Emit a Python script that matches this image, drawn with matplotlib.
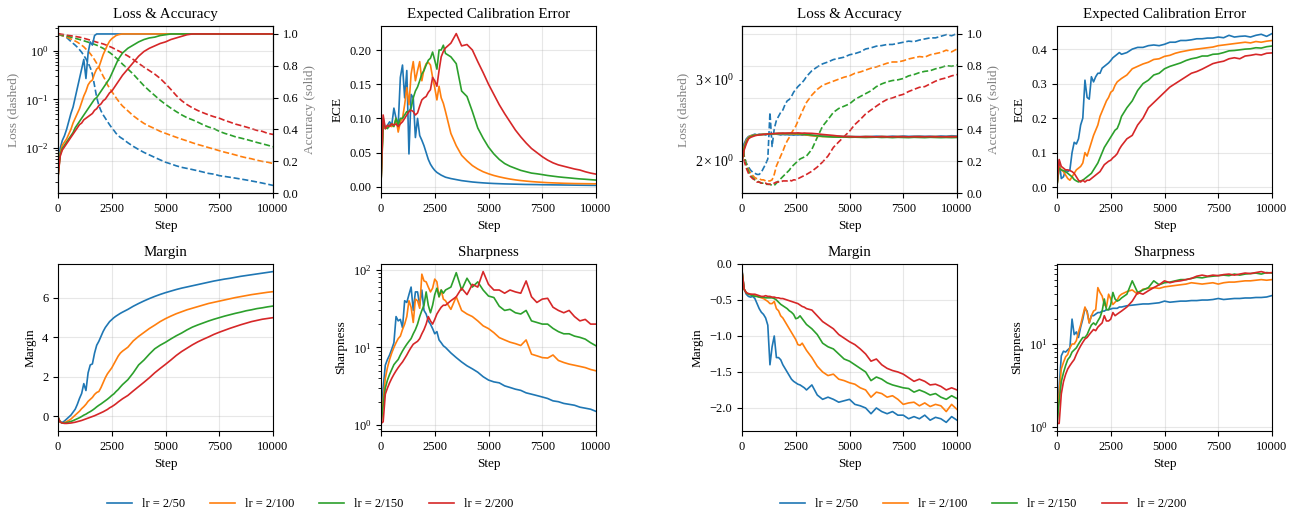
import matplotlib
matplotlib.use("Agg")
import matplotlib.pyplot as plt

plt.rcParams['font.family'] = ['Liberation Serif', 'DejaVu Serif']
plt.rcParams['mathtext.fontset'] = 'stix'
plt.rcParams['axes.unicode_minus'] = True

# ---------------- data ----------------
steps = list(range(0, 3000, 100)) + list(range(3000, 10001, 250))
lr_labels = ["lr = 2/50", "lr = 2/100", "lr = 2/150", "lr = 2/200"]
colors = ["#1f77b4", "#ff7f0e", "#2ca02c", "#d62728"]

# ===== Group 1 =====
g1_loss_50 = [2.2, 2.1, 2.03, 1.95, 1.87, 1.7, 1.55, 1.42, 1.3, 1.18,
              1.05, 0.93, 0.8, 0.68, 0.56, 0.45, 0.33, 0.19, 0.11, 0.075,
              0.058, 0.048, 0.041, 0.035, 0.03, 0.026, 0.023, 0.02, 0.018, 0.0165] + \
             [0.0155, 0.0128, 0.0108, 0.0093, 0.0081, 0.0072, 0.0064, 0.0057, 0.0051, 0.0047,
              0.0043, 0.004, 0.0038, 0.0036, 0.0034, 0.0032, 0.003, 0.0029, 0.0027, 0.0026,
              0.0025, 0.0024, 0.0023, 0.0022, 0.0021, 0.002, 0.0019, 0.0018, 0.0017]
g1_loss_100 = [2.2, 2.12, 2.05, 1.98, 1.9, 1.82, 1.74, 1.66, 1.58, 1.5,
               1.4, 1.3, 1.2, 1.08, 0.98, 0.87, 0.76, 0.65, 0.55, 0.45,
               0.37, 0.3, 0.25, 0.2, 0.17, 0.145, 0.125, 0.108, 0.094, 0.082] + \
              [0.073, 0.058, 0.046, 0.038, 0.032, 0.028, 0.025, 0.022, 0.02, 0.0182,
               0.0166, 0.0152, 0.014, 0.0128, 0.0118, 0.011, 0.0102, 0.0095, 0.0088, 0.0082,
               0.0077, 0.0072, 0.0067, 0.0063, 0.006, 0.0056, 0.0053, 0.0051, 0.0048]
g1_loss_150 = [2.2, 2.15, 2.1, 2.05, 2.0, 1.95, 1.9, 1.85, 1.8, 1.75,
               1.7, 1.65, 1.6, 1.55, 1.5, 1.45, 1.4, 1.35, 1.3, 1.24,
               1.18, 1.12, 1.05, 0.98, 0.92, 0.85, 0.78, 0.71, 0.65, 0.59] + \
              [0.53, 0.42, 0.33, 0.25, 0.19, 0.15, 0.12, 0.096, 0.079, 0.066,
               0.056, 0.048, 0.042, 0.038, 0.034, 0.03, 0.027, 0.025, 0.022, 0.02,
               0.0185, 0.017, 0.016, 0.015, 0.014, 0.013, 0.0122, 0.0114, 0.0106]
g1_loss_200 = [2.25, 2.2, 2.17, 2.13, 2.1, 2.06, 2.03, 2.0, 1.97, 1.93,
               1.9, 1.85, 1.8, 1.75, 1.7, 1.65, 1.6, 1.55, 1.5, 1.46,
               1.42, 1.38, 1.33, 1.28, 1.22, 1.17, 1.11, 1.05, 1.0, 0.95] + \
              [0.9, 0.78, 0.66, 0.55, 0.46, 0.39, 0.33, 0.27, 0.21, 0.16,
               0.12, 0.094, 0.078, 0.067, 0.059, 0.053, 0.048, 0.044, 0.041, 0.037,
               0.034, 0.031, 0.029, 0.027, 0.025, 0.023, 0.022, 0.02, 0.019]

g1_acc_50 = [0.1, 0.28, 0.33, 0.36, 0.4, 0.45, 0.5, 0.54, 0.6, 0.66,
             0.72, 0.78, 0.84, 0.72, 0.88, 0.95, 0.93, 0.99, 1.0, 1.0,
             1.0, 1.0, 1.0, 1.0, 1.0, 1.0, 1.0, 1.0, 1.0, 1.0] + \
            [1.0, 1.0, 1.0, 1.0, 1.0, 1.0, 1.0, 1.0, 1.0, 1.0,
             1.0, 1.0, 1.0, 1.0, 1.0, 1.0, 1.0, 1.0, 1.0, 1.0,
             1.0, 1.0, 1.0, 1.0, 1.0, 1.0, 1.0, 1.0, 1.0]
g1_acc_100 = [0.1, 0.25, 0.3, 0.32, 0.34, 0.37, 0.4, 0.44, 0.47, 0.5,
              0.53, 0.57, 0.61, 0.64, 0.68, 0.7, 0.71, 0.75, 0.78, 0.79,
              0.83, 0.87, 0.9, 0.93, 0.955, 0.97, 0.98, 0.99, 0.995, 0.998] + \
             [1.0, 1.0, 1.0, 1.0, 1.0, 1.0, 1.0, 1.0, 1.0, 1.0,
              1.0, 1.0, 1.0, 1.0, 1.0, 1.0, 1.0, 1.0, 1.0, 1.0,
              1.0, 1.0, 1.0, 1.0, 1.0, 1.0, 1.0, 1.0, 1.0]
g1_acc_150 = [0.1, 0.24, 0.28, 0.3, 0.32, 0.34, 0.36, 0.38, 0.41, 0.43,
              0.45, 0.47, 0.49, 0.51, 0.53, 0.55, 0.57, 0.59, 0.6, 0.62,
              0.64, 0.66, 0.68, 0.7, 0.72, 0.75, 0.78, 0.81, 0.84, 0.86] + \
             [0.88, 0.91, 0.93, 0.95, 0.965, 0.975, 0.98, 0.99, 0.995, 1.0,
              1.0, 1.0, 1.0, 1.0, 1.0, 1.0, 1.0, 1.0, 1.0, 1.0,
              1.0, 1.0, 1.0, 1.0, 1.0, 1.0, 1.0, 1.0, 1.0]
g1_acc_200 = [0.1, 0.23, 0.27, 0.29, 0.31, 0.33, 0.35, 0.37, 0.39, 0.41,
              0.43, 0.44, 0.46, 0.47, 0.48, 0.49, 0.5, 0.52, 0.53, 0.55,
              0.56, 0.58, 0.59, 0.61, 0.63, 0.64, 0.66, 0.68, 0.7, 0.72] + \
             [0.74, 0.78, 0.82, 0.86, 0.89, 0.91, 0.925, 0.94, 0.95, 0.965,
              0.975, 0.985, 0.995, 1.0, 1.0, 1.0, 1.0, 1.0, 1.0, 1.0,
              1.0, 1.0, 1.0, 1.0, 1.0, 1.0, 1.0, 1.0, 1.0]

g1_ece_50 = [0.005, 0.1, 0.085, 0.09, 0.095, 0.09, 0.115, 0.1, 0.09, 0.16,
             0.178, 0.13, 0.17, 0.048, 0.135, 0.13, 0.072, 0.1, 0.075, 0.068,
             0.06, 0.05, 0.04, 0.033, 0.028, 0.024, 0.021, 0.019, 0.017, 0.0155] + \
            [0.014, 0.012, 0.0105, 0.009, 0.008, 0.007, 0.0063, 0.0057, 0.0052, 0.0048,
             0.0045, 0.0042, 0.004, 0.0038, 0.0036, 0.0034, 0.0033, 0.0032, 0.003, 0.0029,
             0.0028, 0.0027, 0.0026, 0.0025, 0.0024, 0.0023, 0.0022, 0.0021, 0.002]
g1_ece_100 = [0.005, 0.09, 0.085, 0.088, 0.09, 0.088, 0.09, 0.1, 0.08, 0.095,
              0.1, 0.12, 0.145, 0.12, 0.165, 0.183, 0.155, 0.17, 0.183, 0.155,
              0.172, 0.18, 0.182, 0.178, 0.16, 0.145, 0.127, 0.147, 0.13, 0.122] + \
             [0.11, 0.078, 0.06, 0.046, 0.038, 0.031, 0.026, 0.022, 0.019, 0.0165,
              0.0145, 0.0128, 0.0113, 0.0101, 0.0091, 0.0083, 0.0076, 0.007, 0.0065, 0.006,
              0.0057, 0.0054, 0.0051, 0.0049, 0.0047, 0.0046, 0.0045, 0.0044, 0.0043]
g1_ece_150 = [0.005, 0.09, 0.088, 0.085, 0.09, 0.092, 0.088, 0.1, 0.09, 0.1,
              0.1, 0.105, 0.11, 0.11, 0.115, 0.13, 0.14, 0.146, 0.155, 0.165,
              0.17, 0.178, 0.185, 0.188, 0.197, 0.185, 0.172, 0.2, 0.2, 0.207] + \
             [0.195, 0.19, 0.18, 0.14, 0.132, 0.11, 0.086, 0.071, 0.058, 0.048,
              0.04, 0.034, 0.03, 0.027, 0.024, 0.022, 0.02, 0.019, 0.0178, 0.0165,
              0.0155, 0.0145, 0.0137, 0.013, 0.0122, 0.0115, 0.011, 0.0104, 0.0098]
g1_ece_200 = [0.005, 0.105, 0.085, 0.09, 0.088, 0.092, 0.09, 0.092, 0.088, 0.092,
              0.095, 0.1, 0.105, 0.11, 0.112, 0.11, 0.105, 0.108, 0.118, 0.127,
              0.13, 0.132, 0.138, 0.142, 0.16, 0.155, 0.147, 0.17, 0.19, 0.198] + \
             [0.203, 0.21, 0.224, 0.206, 0.208, 0.2, 0.183, 0.167, 0.15, 0.135,
              0.12, 0.107, 0.095, 0.083, 0.073, 0.064, 0.056, 0.05, 0.044, 0.039,
              0.035, 0.032, 0.03, 0.028, 0.026, 0.0245, 0.022, 0.02, 0.0185]

g1_margin_50 = [-0.05, -0.3, -0.32, -0.25, -0.15, -0.05, 0.05, 0.2, 0.35, 0.6,
                0.9, 1.15, 1.65, 1.3, 2.2, 2.6, 2.65, 3.2, 3.6, 3.8,
                4.05, 4.3, 4.5, 4.65, 4.8, 4.9, 5.0, 5.08, 5.15, 5.22] + \
               [5.28, 5.42, 5.58, 5.72, 5.85, 5.97, 6.08, 6.18, 6.27, 6.35,
                6.43, 6.5, 6.56, 6.62, 6.68, 6.74, 6.8, 6.86, 6.91, 6.96,
                7.0, 7.05, 7.1, 7.14, 7.18, 7.22, 7.26, 7.3, 7.34]
g1_margin_100 = [-0.05, -0.3, -0.35, -0.33, -0.28, -0.22, -0.15, -0.05, 0.05, 0.15,
                 0.25, 0.38, 0.48, 0.6, 0.75, 0.85, 0.95, 1.1, 1.2, 1.25,
                 1.45, 1.7, 1.95, 2.15, 2.3, 2.45, 2.65, 2.85, 3.05, 3.2] + \
                [3.3, 3.5, 3.82, 4.05, 4.25, 4.45, 4.62, 4.8, 4.95, 5.08,
                 5.2, 5.3, 5.4, 5.48, 5.56, 5.64, 5.72, 5.78, 5.84, 5.9,
                 5.96, 6.02, 6.07, 6.12, 6.17, 6.21, 6.25, 6.29, 6.32]
g1_margin_150 = [-0.05, -0.3, -0.35, -0.35, -0.33, -0.3, -0.27, -0.23, -0.18, -0.13,
                 -0.08, -0.02, 0.05, 0.1, 0.17, 0.23, 0.3, 0.38, 0.47, 0.55,
                 0.62, 0.7, 0.78, 0.86, 0.95, 1.05, 1.13, 1.25, 1.35, 1.48] + \
                [1.6, 1.85, 2.2, 2.6, 2.85, 3.15, 3.42, 3.6, 3.75, 3.92,
                 4.08, 4.22, 4.38, 4.52, 4.63, 4.73, 4.83, 4.92, 5.0, 5.08,
                 5.15, 5.22, 5.28, 5.35, 5.4, 5.46, 5.5, 5.55, 5.59]
g1_margin_200 = [-0.05, -0.3, -0.35, -0.37, -0.37, -0.36, -0.35, -0.33, -0.31, -0.28,
                 -0.25, -0.22, -0.18, -0.14, -0.1, -0.06, -0.02, 0.02, 0.07, 0.12,
                 0.17, 0.22, 0.28, 0.34, 0.42, 0.48, 0.55, 0.63, 0.72, 0.8] + \
                [0.88, 1.05, 1.28, 1.5, 1.72, 1.95, 2.2, 2.42, 2.63, 2.85,
                 3.08, 3.28, 3.45, 3.62, 3.77, 3.9, 4.02, 4.15, 4.26, 4.36,
                 4.46, 4.55, 4.64, 4.72, 4.8, 4.86, 4.92, 4.96, 5.0]

g1_sharp_50 = [1.05, 3.0, 5.9, 7.0, 8.0, 9.5, 11.5, 25, 22, 23,
               18, 40, 38, 48, 60, 30, 52, 52, 35, 55,
               30, 27, 22, 20, 17.5, 15, 16, 12.5, 11.5, 10.5] + \
              [10, 8.5, 7.4, 6.5, 5.8, 5.3, 4.8, 4.2, 3.8, 3.6,
               3.5, 3.2, 3.05, 2.9, 2.8, 2.6, 2.5, 2.4, 2.3, 2.2,
               2.05, 2.0, 1.9, 1.85, 1.8, 1.7, 1.65, 1.6, 1.5]
g1_sharp_100 = [1.05, 2.0, 4.0, 5.5, 7.0, 8.5, 10, 11.5, 13, 14,
                17, 20, 25, 40, 33, 21, 42, 40, 32, 88,
                72, 70, 60, 52, 58, 76, 70, 45, 55, 42] + \
               [40, 31, 45, 30, 27, 25, 22, 19, 17.5, 15.5,
                13.4, 12.5, 11.7, 11.2, 10.6, 12.5, 8.2, 7.8, 7.4, 7.3,
                8.0, 6.8, 6.4, 6.1, 5.9, 5.7, 5.5, 5.2, 5.0]
g1_sharp_150 = [1.05, 1.8, 3.0, 3.8, 4.5, 5.2, 6.0, 6.5, 7.0, 8.0,
                9.0, 10, 11, 12, 13, 15, 17, 20, 25, 30,
                35, 52, 35, 28, 35, 48, 58, 45, 55, 50] + \
               [55, 60, 92, 55, 78, 60, 70, 55, 46, 44,
                34, 30, 31, 28, 27, 30, 22, 21, 20, 20,
                17.6, 16, 15, 15, 14, 13.5, 12.8, 11.5, 10.5]
g1_sharp_200 = [1.05, 1.1, 2.5, 3.0, 3.5, 4.0, 4.5, 5.0, 5.5, 6.0,
                6.5, 7.2, 8.0, 9.0, 10.0, 11, 11.5, 12, 13, 15,
                17, 20, 25, 22, 20, 23, 27, 30, 33, 35] + \
               [35, 40, 45, 58, 48, 65, 60, 95, 65, 55,
                55, 50, 55, 52, 50, 72, 45, 38, 42, 43,
                33, 30, 28, 30, 25, 22, 23, 20, 20]

# ===== Group 2 =====
g2_loss_50 = [2.2, 2.05, 1.98, 1.94, 1.91, 1.89, 1.88, 1.87, 1.87, 1.89,
              1.93, 1.97, 2.02, 2.55, 2.15, 2.35, 2.45, 2.5, 2.55, 2.58,
              2.65, 2.7, 2.72, 2.76, 2.82, 2.86, 2.9, 2.93, 2.96, 3.0] + \
             [3.05, 3.14, 3.2, 3.25, 3.28, 3.32, 3.34, 3.36, 3.4, 3.42,
              3.45, 3.5, 3.52, 3.55, 3.56, 3.58, 3.58, 3.6, 3.62, 3.64,
              3.63, 3.66, 3.68, 3.7, 3.7, 3.73, 3.76, 3.74, 3.78]
g2_loss_100 = [2.2, 2.05, 1.97, 1.92, 1.88, 1.86, 1.84, 1.83, 1.83, 1.82,
               1.82, 1.81, 1.81, 1.81, 1.82, 1.87, 1.95, 2.0, 2.05, 2.1,
               2.16, 2.21, 2.25, 2.3, 2.34, 2.38, 2.44, 2.5, 2.56, 2.62] + \
              [2.68, 2.78, 2.86, 2.92, 2.95, 2.98, 3.01, 3.04, 3.06, 3.1,
               3.12, 3.15, 3.18, 3.2, 3.23, 3.26, 3.28, 3.28, 3.3, 3.33,
               3.35, 3.37, 3.36, 3.4, 3.42, 3.44, 3.48, 3.45, 3.5]
g2_loss_150 = [2.2, 2.05, 1.96, 1.9, 1.86, 1.84, 1.82, 1.81, 1.8, 1.79,
               1.79, 1.78, 1.78, 1.78, 1.77, 1.77, 1.79, 1.81, 1.83, 1.85,
               1.87, 1.89, 1.91, 1.94, 1.96, 1.98, 2.0, 2.02, 2.03, 2.04] + \
              [2.05, 2.12, 2.25, 2.38, 2.46, 2.55, 2.6, 2.63, 2.66, 2.72,
               2.76, 2.8, 2.84, 2.9, 2.94, 2.97, 2.99, 3.0, 3.02, 3.06,
               3.08, 3.11, 3.13, 3.14, 3.17, 3.19, 3.22, 3.21, 3.23]
g2_loss_200 = [2.2, 2.0, 1.93, 1.88, 1.85, 1.83, 1.82, 1.8, 1.8, 1.79,
               1.79, 1.79, 1.78, 1.78, 1.78, 1.79, 1.8, 1.8, 1.8, 1.81,
               1.81, 1.81, 1.82, 1.81, 1.82, 1.82, 1.83, 1.84, 1.85, 1.86] + \
              [1.87, 1.9, 1.94, 1.99, 2.05, 2.14, 2.2, 2.26, 2.32, 2.4,
               2.46, 2.53, 2.58, 2.63, 2.68, 2.72, 2.74, 2.77, 2.79, 2.83,
               2.86, 2.89, 2.9, 2.94, 2.98, 3.01, 3.03, 3.06, 3.08]

g2_acc_50 = [0.2, 0.31, 0.34, 0.355, 0.36, 0.365, 0.37, 0.365, 0.37, 0.368,
             0.37, 0.365, 0.37, 0.368, 0.37, 0.372, 0.37, 0.368, 0.365, 0.368,
             0.366, 0.367, 0.365, 0.366, 0.364, 0.366, 0.365, 0.366, 0.364, 0.365] + \
            [0.364, 0.362, 0.36, 0.358, 0.356, 0.355, 0.357, 0.355, 0.356, 0.355,
             0.354, 0.356, 0.355, 0.357, 0.356, 0.355, 0.357, 0.356, 0.358, 0.356,
             0.357, 0.358, 0.356, 0.357, 0.356, 0.358, 0.357, 0.36, 0.358]
g2_acc_100 = [0.2, 0.29, 0.33, 0.35, 0.36, 0.362, 0.365, 0.366, 0.367, 0.368,
              0.369, 0.37, 0.37, 0.371, 0.372, 0.372, 0.372, 0.373, 0.372, 0.373,
              0.372, 0.373, 0.372, 0.371, 0.371, 0.37, 0.37, 0.369, 0.368, 0.367] + \
             [0.365, 0.36, 0.357, 0.355, 0.355, 0.354, 0.355, 0.354, 0.355, 0.354,
              0.353, 0.355, 0.354, 0.353, 0.355, 0.354, 0.353, 0.355, 0.354, 0.353,
              0.354, 0.355, 0.353, 0.354, 0.355, 0.353, 0.354, 0.355, 0.354]
g2_acc_150 = [0.2, 0.28, 0.32, 0.345, 0.355, 0.36, 0.363, 0.365, 0.366, 0.367,
              0.368, 0.369, 0.37, 0.371, 0.372, 0.373, 0.374, 0.374, 0.375, 0.374,
              0.375, 0.374, 0.375, 0.374, 0.374, 0.373, 0.373, 0.372, 0.371, 0.37] + \
             [0.368, 0.364, 0.36, 0.356, 0.354, 0.352, 0.351, 0.352, 0.35, 0.351,
              0.35, 0.349, 0.35, 0.351, 0.349, 0.35, 0.348, 0.35, 0.349, 0.348,
              0.35, 0.349, 0.348, 0.35, 0.349, 0.348, 0.349, 0.348, 0.349]
g2_acc_200 = [0.2, 0.27, 0.31, 0.34, 0.35, 0.355, 0.36, 0.363, 0.365, 0.367,
              0.368, 0.37, 0.371, 0.372, 0.373, 0.374, 0.375, 0.376, 0.376, 0.377,
              0.376, 0.377, 0.377, 0.378, 0.377, 0.377, 0.378, 0.377, 0.376, 0.377] + \
             [0.376, 0.375, 0.372, 0.368, 0.365, 0.362, 0.358, 0.355, 0.354, 0.353,
              0.354, 0.353, 0.354, 0.353, 0.354, 0.353, 0.354, 0.353, 0.354, 0.353,
              0.354, 0.353, 0.354, 0.354, 0.353, 0.354, 0.353, 0.353, 0.354]

g2_ece_50 = [0.005, 0.077, 0.025, 0.03, 0.05, 0.045, 0.05, 0.1, 0.13, 0.125,
             0.14, 0.18, 0.2, 0.31, 0.26, 0.255, 0.32, 0.305, 0.32, 0.33,
             0.33, 0.345, 0.35, 0.355, 0.36, 0.367, 0.375, 0.38, 0.385, 0.39] + \
            [0.385, 0.39, 0.4, 0.405, 0.405, 0.41, 0.412, 0.41, 0.414, 0.42,
             0.42, 0.425, 0.425, 0.427, 0.43, 0.43, 0.432, 0.432, 0.435, 0.433,
             0.44, 0.435, 0.437, 0.438, 0.435, 0.44, 0.443, 0.437, 0.445]
g2_ece_100 = [0.005, 0.06, 0.05, 0.045, 0.035, 0.025, 0.02, 0.03, 0.04, 0.05,
              0.055, 0.06, 0.07, 0.1, 0.09, 0.11, 0.13, 0.15, 0.165, 0.18,
              0.205, 0.22, 0.235, 0.25, 0.26, 0.275, 0.28, 0.295, 0.305, 0.31] + \
             [0.315, 0.325, 0.343, 0.35, 0.357, 0.362, 0.37, 0.372, 0.379, 0.382,
              0.388, 0.392, 0.395, 0.398, 0.4, 0.402, 0.404, 0.406, 0.41, 0.412,
              0.414, 0.416, 0.418, 0.42, 0.418, 0.422, 0.42, 0.423, 0.425]
g2_ece_150 = [0.005, 0.055, 0.05, 0.048, 0.045, 0.04, 0.035, 0.03, 0.022, 0.018,
              0.015, 0.018, 0.02, 0.025, 0.03, 0.035, 0.04, 0.05, 0.06, 0.07,
              0.085, 0.1, 0.115, 0.125, 0.135, 0.145, 0.155, 0.165, 0.17, 0.185] + \
             [0.205, 0.23, 0.25, 0.28, 0.3, 0.31, 0.325, 0.33, 0.343, 0.35,
              0.355, 0.36, 0.367, 0.372, 0.375, 0.38, 0.38, 0.385, 0.386, 0.39,
              0.395, 0.396, 0.398, 0.4, 0.401, 0.404, 0.403, 0.407, 0.409]
g2_ece_200 = [0.005, 0.08, 0.06, 0.055, 0.05, 0.05, 0.048, 0.045, 0.04, 0.03,
              0.02, 0.015, 0.02, 0.015, 0.02, 0.02, 0.025, 0.03, 0.035, 0.04,
              0.045, 0.055, 0.065, 0.07, 0.075, 0.078, 0.085, 0.09, 0.097, 0.11] + \
             [0.12, 0.14, 0.15, 0.18, 0.2, 0.23, 0.245, 0.26, 0.275, 0.29,
              0.3, 0.31, 0.32, 0.33, 0.335, 0.342, 0.35, 0.358, 0.362, 0.365,
              0.372, 0.375, 0.372, 0.38, 0.382, 0.385, 0.383, 0.388, 0.389]

g2_margin_50 = [-0.08, -0.35, -0.42, -0.45, -0.46, -0.45, -0.48, -0.55, -0.62, -0.67,
                -0.7, -0.75, -0.85, -1.4, -1.15, -1.0, -1.3, -1.3, -1.33, -1.4,
                -1.45, -1.5, -1.55, -1.6, -1.63, -1.65, -1.67, -1.68, -1.7, -1.72] + \
               [-1.75, -1.68, -1.82, -1.88, -1.85, -1.88, -1.92, -1.9, -1.88, -1.95,
                -1.97, -2.0, -2.08, -2.0, -2.05, -2.08, -2.05, -2.1, -2.1, -2.15,
                -2.12, -2.15, -2.1, -2.17, -2.13, -2.15, -2.2, -2.12, -2.17]
g2_margin_100 = [-0.1, -0.35, -0.4, -0.42, -0.42, -0.43, -0.44, -0.45, -0.46, -0.47,
                 -0.48, -0.5, -0.52, -0.55, -0.55, -0.52, -0.62, -0.65, -0.72, -0.75,
                 -0.8, -0.85, -0.9, -0.95, -1.0, -1.05, -1.12, -1.13, -1.1, -1.15] + \
                [-1.2, -1.3, -1.42, -1.5, -1.55, -1.53, -1.6, -1.62, -1.65, -1.67,
                 -1.72, -1.75, -1.85, -1.78, -1.8, -1.85, -1.83, -1.88, -1.95, -1.93,
                 -1.92, -1.97, -1.93, -1.98, -1.95, -1.97, -2.05, -1.95, -2.02]
g2_margin_150 = [-0.1, -0.35, -0.4, -0.42, -0.43, -0.44, -0.45, -0.45, -0.46, -0.46,
                 -0.46, -0.47, -0.47, -0.47, -0.47, -0.48, -0.5, -0.53, -0.56, -0.58,
                 -0.6, -0.62, -0.65, -0.67, -0.7, -0.76, -0.75, -0.72, -0.76, -0.8] + \
                [-0.84, -0.9, -0.98, -1.1, -1.15, -1.18, -1.25, -1.32, -1.35, -1.4,
                 -1.45, -1.5, -1.62, -1.57, -1.6, -1.65, -1.68, -1.7, -1.72, -1.73,
                 -1.78, -1.75, -1.78, -1.82, -1.8, -1.85, -1.88, -1.83, -1.87]
g2_margin_200 = [-0.1, -0.35, -0.4, -0.41, -0.42, -0.42, -0.42, -0.43, -0.44, -0.45,
                 -0.45, -0.44, -0.45, -0.45, -0.46, -0.46, -0.47, -0.47, -0.48, -0.48,
                 -0.49, -0.5, -0.51, -0.52, -0.53, -0.54, -0.55, -0.57, -0.59, -0.6] + \
                [-0.62, -0.64, -0.72, -0.8, -0.85, -0.9, -0.98, -1.03, -1.08, -1.12,
                 -1.18, -1.25, -1.35, -1.32, -1.4, -1.45, -1.48, -1.5, -1.53, -1.58,
                 -1.63, -1.6, -1.63, -1.68, -1.67, -1.7, -1.75, -1.72, -1.75]

g2_sharp_50 = [1.1, 3.0, 7.2, 8.2, 8.0, 8.5, 9.0, 20, 13, 14,
               12, 16, 20, 27, 25, 18, 22, 22, 23, 24,
               24, 25, 25, 26, 26, 26.5, 27, 27, 27, 28] + \
              [28, 29, 29.5, 30, 30.5, 30.5, 31, 31.5, 33, 32,
               32.5, 33, 33, 33.5, 33.5, 34, 34, 34.5, 35.5, 34.5,
               35, 35.5, 35.5, 36, 36, 36.5, 36.5, 37, 38.5]
g2_sharp_100 = [1.1, 2.5, 5.0, 6.0, 7.0, 7.5, 9.0, 10, 10, 11,
                14, 17, 22, 28, 24, 18, 22, 25, 26, 48,
                42, 38, 30, 28, 40, 35, 30, 32, 34, 38] + \
               [40, 43, 45, 40, 46, 47, 48, 47, 49, 50,
                51, 52, 53, 55, 54, 53, 54, 55, 53, 55,
                56, 56, 57, 58, 58, 59, 60, 59, 60]
g2_sharp_150 = [1.1, 2.0, 3.5, 4.5, 5.5, 6.5, 7.0, 8.0, 8.5, 9.0,
                10, 11, 12, 12, 13, 15, 17, 18, 17, 19,
                21, 25, 35, 26, 26, 30, 42, 35, 33, 34] + \
               [36, 40, 58, 42, 45, 48, 58, 52, 55, 56,
                58, 60, 60, 62, 64, 63, 65, 66, 67, 68,
                67, 70, 68, 70, 71, 72, 70, 73, 72]
g2_sharp_200 = [1.1, 1.1, 2.5, 3.5, 4.3, 5.0, 5.5, 6.0, 6.5, 7.5,
                8.5, 9.5, 10.5, 11.5, 12, 13, 14, 15, 14.5, 16,
                17, 18, 22, 19, 19, 20, 24, 22, 23, 24] + \
               [25, 28, 33, 42, 40, 44, 48, 52, 58, 55,
                57, 58, 60, 62, 66, 68, 66, 68, 67, 69,
                70, 68, 70, 72, 71, 73, 75, 72, 73]

groups = [
    dict(loss=[g1_loss_50, g1_loss_100, g1_loss_150, g1_loss_200],
         acc=[g1_acc_50, g1_acc_100, g1_acc_150, g1_acc_200],
         ece=[g1_ece_50, g1_ece_100, g1_ece_150, g1_ece_200],
         margin=[g1_margin_50, g1_margin_100, g1_margin_150, g1_margin_200],
         sharp=[g1_sharp_50, g1_sharp_100, g1_sharp_150, g1_sharp_200]),
    dict(loss=[g2_loss_50, g2_loss_100, g2_loss_150, g2_loss_200],
         acc=[g2_acc_50, g2_acc_100, g2_acc_150, g2_acc_200],
         ece=[g2_ece_50, g2_ece_100, g2_ece_150, g2_ece_200],
         margin=[g2_margin_50, g2_margin_100, g2_margin_150, g2_margin_200],
         sharp=[g2_sharp_50, g2_sharp_100, g2_sharp_150, g2_sharp_200]),
]

# ---------------- layout ----------------
W, H = 1294, 516
fig = plt.figure(figsize=(W / 100, H / 100), dpi=100)

TICK_FS = 9
LABEL_FS = 9.5
TITLE_FS = 10.8
LW = 1.2
GRID_KW = dict(color='#b0b0b0', alpha=0.3, linewidth=0.8)

def px_axes(left, top, right, bottom):
    return fig.add_axes([left / W, 1 - bottom / H, (right - left) / W, (bottom - top) / H])

def style(ax, title, ylabel, ylabel_color='black'):
    ax.set_title(title, fontsize=TITLE_FS)
    ax.set_xlabel("Step", fontsize=LABEL_FS)
    ax.set_ylabel(ylabel, fontsize=LABEL_FS, color=ylabel_color)
    ax.tick_params(labelsize=TICK_FS)
    ax.set_xlim(0, 10000)
    ax.set_xticks([0, 2500, 5000, 7500, 10000])
    ax.grid(True, **GRID_KW)

col_lefts = [[58, 381], [742, 1057]]
col_widths = 215
top_row = (26, 193)
bot_row = (264, 431)

legend_x = [310, 983]

for gi, g in enumerate(groups):
    l1, l2 = col_lefts[gi]
    # Loss & Accuracy
    ax = px_axes(l1, top_row[0], l1 + col_widths, top_row[1])
    ax2 = ax.twinx()
    for i in range(4):
        ax.plot(steps, g['loss'][i], color=colors[i], lw=LW, ls='--')
        ax2.plot(steps, g['acc'][i], color=colors[i], lw=LW)
    ax.set_yscale('log')
    style(ax, "Loss & Accuracy", "Loss (dashed)", ylabel_color='gray')
    ax2.set_ylim(0, 1.05)
    ax2.set_ylabel("Accuracy (solid)", fontsize=LABEL_FS, color='gray')
    ax2.tick_params(labelsize=TICK_FS)
    ax2.grid(True, **GRID_KW)

    # ECE
    ax = px_axes(l2, top_row[0], l2 + col_widths, top_row[1])
    for i in range(4):
        ax.plot(steps, g['ece'][i], color=colors[i], lw=LW)
    style(ax, "Expected Calibration Error", "ECE")

    # Margin
    ax = px_axes(l1, bot_row[0], l1 + col_widths, bot_row[1])
    lines = []
    for i in range(4):
        ln, = ax.plot(steps, g['margin'][i], color=colors[i], lw=LW, label=lr_labels[i])
        lines.append(ln)
    style(ax, "Margin", "Margin")
    if gi == 1:
        ax.set_ylim(-2.32, 0.0)

    # Sharpness
    ax = px_axes(l2, bot_row[0], l2 + col_widths, bot_row[1])
    for i in range(4):
        ax.plot(steps, g['sharp'][i], color=colors[i], lw=LW)
    ax.set_yscale('log')
    style(ax, "Sharpness", "Sharpness")

    fig.legend(lines, lr_labels, loc='center', bbox_to_anchor=(legend_x[gi] / W, 1 - 504 / H),
               ncol=4, frameon=False, fontsize=9, columnspacing=2.0, handlelength=2.0)

fig.savefig("out.png", dpi=100)
